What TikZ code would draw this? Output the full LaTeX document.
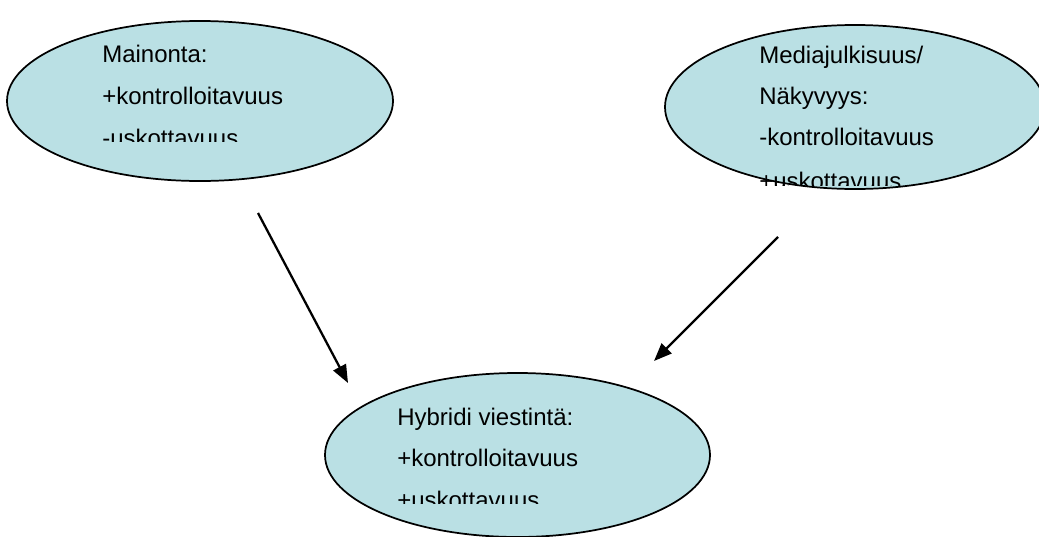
\documentclass[tikz,border=0pt]{standalone}
\usepackage{fontspec}
\setmainfont{Liberation Sans}
\usetikzlibrary{shapes.geometric,arrows.meta}
\definecolor{bubblefill}{RGB}{186,224,228}
\tikzset{
  bubble/.style={ellipse, draw=black, line width=1.3pt, fill=bubblefill, inner sep=0pt},
  txtline/.style={anchor=base west, inner sep=0pt, font=\fontsize{18pt}{22pt}\selectfont},
  link/.style={line width=1.7pt, -{Triangle[length=13.5pt,width=10.5pt]}},
}
\begin{document}
\begin{tikzpicture}[x=0.75pt,y=-0.75pt]
\useasboundingbox (0,0) rectangle (1039,536);
\clip (0,0) rectangle (1039,536);

% the three bubbles
\node[bubble, minimum width=289.5pt, minimum height=120pt] (ad) at (200,101) {};
\node[bubble, minimum width=285pt, minimum height=123pt] (media) at (855,107) {};
\node[bubble, minimum width=288.75pt, minimum height=123pt] (hybrid) at (517.5,455) {};

% text of each bubble, cut off at the bottom of its text frame
\begin{scope}
  \clip (95,35) rectangle (400,141);
  \node[txtline] (ad1) at (102,62) {Mainonta:};
  \node[txtline] (ad2) at (102,104) {+kontrolloitavuus};
  \node[txtline] (ad3) at (102,146) {-uskottavuus};
\end{scope}
\begin{scope}
  \clip (750,35) rectangle (1039,185);
  \node[txtline] (me1) at (759,63) {Mediajulkisuus/};
  \node[txtline] (me2) at (759,104) {Näkyvyys:};
  \node[txtline] (me3) at (759,145) {-kontrolloitavuus};
  \node[txtline] (me4) at (759,189) {+uskottavuus};
\end{scope}
\begin{scope}
  \clip (390,395) rectangle (700,503);
  \node[txtline] (hy1) at (397,425) {Hybridi viestintä:};
  \node[txtline] (hy2) at (397,466) {+kontrolloitavuus};
  \node[txtline] (hy3) at (397,508) {+uskottavuus};
\end{scope}

% arrows into the hybrid bubble
\coordinate (adout) at (258,213);
\coordinate (adin) at (348,383);
\coordinate (meout) at (778,237);
\coordinate (mein) at (654,361);
\draw[link] (adout) -- (adin);
\draw[link] (meout) -- (mein);
\end{tikzpicture}
\end{document}
